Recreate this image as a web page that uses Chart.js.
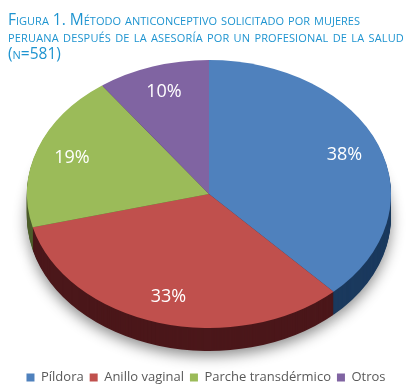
<!DOCTYPE html>
<html><head><meta charset="utf-8">
<script src="https://cdn.jsdelivr.net/npm/chart.js@4/dist/chart.umd.min.js"></script>
<style>
html,body{margin:0;padding:0;background:#fff;}
#wrap{position:relative;width:412px;height:391px;overflow:hidden;}
.tl{position:absolute;left:8px;font-family:"Open Sans",sans-serif;font-variant:small-caps;color:#1E94D0;font-size:15.5px;line-height:17px;white-space:nowrap;}
canvas{position:absolute;left:0;top:0;}
</style></head>
<body><div id="wrap">
<canvas id="c" width="412" height="391"></canvas>
<div class="tl" id="t1" style="top:10.5px" data-w="352">Figura 1. Método anticonceptivo solicitado por mujeres</div>
<div class="tl" id="t2" style="top:27.5px" data-w="396">peruana después de la asesoría por un profesional de la salud</div>
<div class="tl" id="t3" style="top:45px">(n=581)</div>
</div>
<script>
const categories = ["Píldora", "Anillo vaginal", "Parche transdérmico", "Otros"];
const values = [38, 33, 19, 10];
const labelsText = ["38%", "33%", "19%", "10%"];
const topColors = ["#4F81BD", "#C0504D", "#9BBB59", "#8064A2"];
const sideColors = ["#1B3A5E", "#4B171A", "#4D5E2B", "#3F3151"];

const GEO = {cx: 209, cy: 194, rx: 182, ry: 134, depth: 23, labelR: 0.8};

// fit title lines to the reference widths
document.querySelectorAll('.tl[data-w]').forEach(el => {
  const target = +el.dataset.w;
  const w0 = el.getBoundingClientRect().width;
  const n = el.textContent.length;
  el.style.letterSpacing = ((target - w0) / n) + 'px';
});

function mapTransform(ctx, arc) {
  const r = arc.outerRadius;
  ctx.translate(GEO.cx, GEO.cy);
  ctx.scale(GEO.rx / r, GEO.ry / r);
  ctx.translate(-arc.x, -arc.y);
}

const pie3d = {
  id: 'pie3d',
  beforeDatasetsDraw(chart) {
    const ctx = chart.ctx;
    const meta = chart.getDatasetMeta(0);
    const arcs = meta.data;
    for (let k = GEO.depth; k >= 1; k--) {
      ctx.save();
      if (k === GEO.depth) {
        ctx.shadowColor = 'rgba(0,0,0,0.45)';
        ctx.shadowBlur = 14;
        ctx.shadowOffsetY = 5;
      }
      ctx.translate(0, k);
      mapTransform(ctx, arcs[0]);
      arcs.forEach((a, i) => {
        const c = Object.create(a);
        c.options = Object.assign({}, a.options, {backgroundColor: sideColors[i], borderWidth: 0});
        c.draw(ctx);
      });
      ctx.restore();
    }
    ctx.save();
    mapTransform(ctx, arcs[0]);
    arcs.forEach(a => a.draw(ctx));
    ctx.restore();
    ctx.save();
    ctx.fillStyle = '#FFFFFF';
    ctx.font = '18px "Open Sans", sans-serif';
    ctx.textAlign = 'center';
    ctx.textBaseline = 'middle';
    arcs.forEach((a, i) => {
      const mid = (a.startAngle + a.endAngle) / 2;
      const px = Math.cos(mid) * GEO.labelR;
      const py = Math.sin(mid) * GEO.labelR;
      ctx.fillText(labelsText[i], GEO.cx + px * GEO.rx, GEO.cy + py * GEO.ry);
    });
    ctx.restore();
    return false;
  }
};

new Chart(document.getElementById('c'), {
  type: 'pie',
  data: {
    labels: categories,
    datasets: [{data: values, backgroundColor: topColors, borderWidth: 0}]
  },
  options: {
    responsive: false,
    animation: false,
    devicePixelRatio: 1,
    layout: {padding: {top: 70, left: 0, right: 0, bottom: -3}},
    plugins: {
      legend: {
        position: 'bottom',
        labels: {
          boxWidth: 8, boxHeight: 8, padding: 6,
          color: '#595959',
          font: {family: '"Open Sans", sans-serif', size: 13}
        }
      },
      tooltip: {enabled: false}
    }
  },
  plugins: [pie3d]
});
</script>
</body></html>
